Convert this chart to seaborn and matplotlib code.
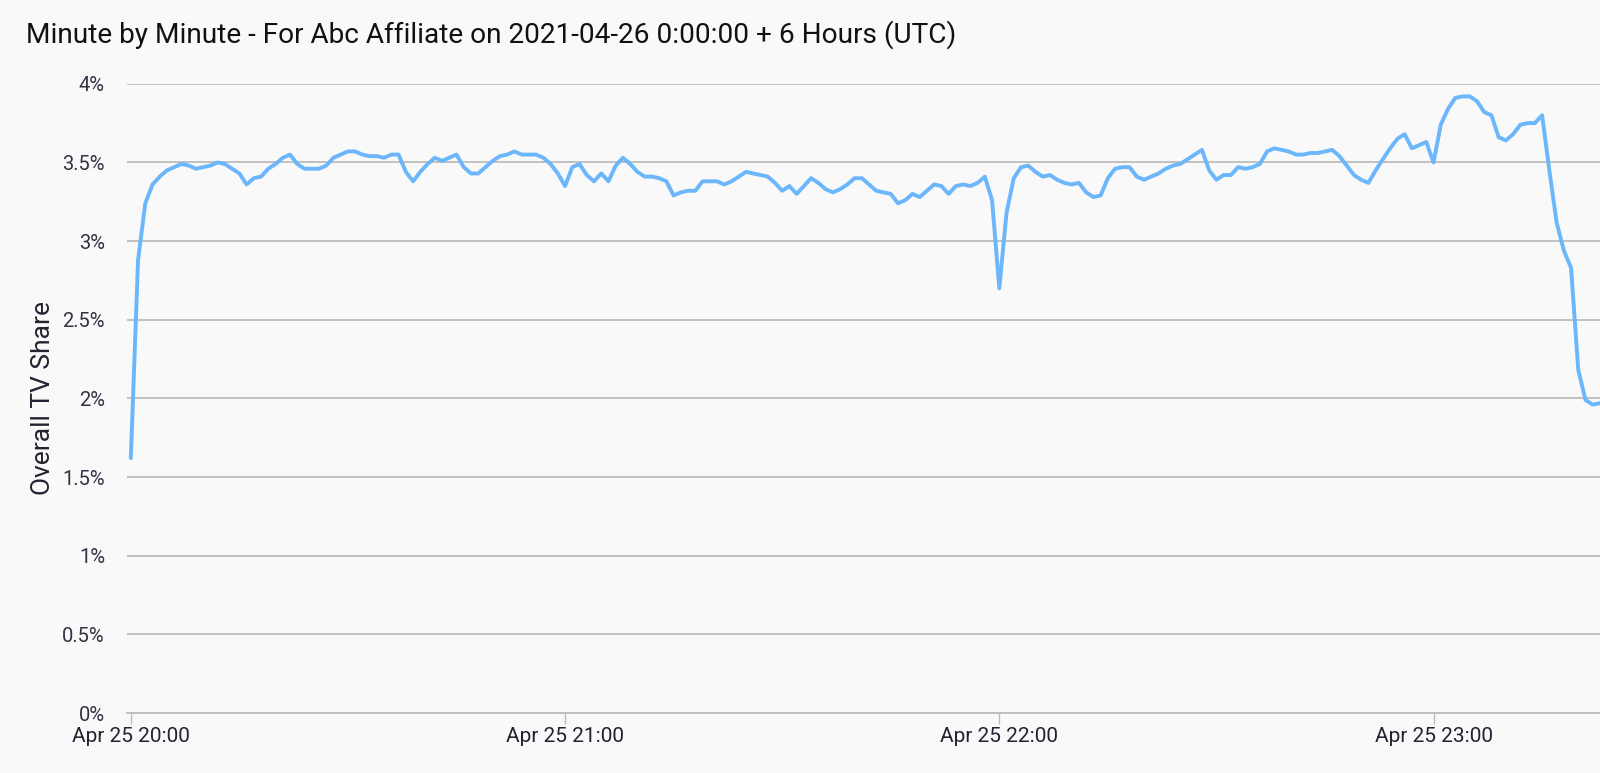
import matplotlib
matplotlib.use("Agg")
import matplotlib.pyplot as plt
import matplotlib.dates as mdates
from matplotlib.ticker import FuncFormatter
import seaborn as sns
import pandas as pd

# chart data: one value per minute starting at 2021-04-25 20:00
start_time = "2021-04-25 20:00"
tv_share = [
    1.62, 2.88, 3.24, 3.36, 3.41, 3.45, 3.47, 3.49, 3.48, 3.46,
    3.47, 3.48, 3.50, 3.49, 3.46, 3.43, 3.36, 3.40, 3.41, 3.46,
    3.49, 3.53, 3.55, 3.49, 3.46, 3.46, 3.46, 3.48, 3.53, 3.55,
    3.57, 3.57, 3.55, 3.54, 3.54, 3.53, 3.55, 3.55, 3.44, 3.38,
    3.44, 3.49, 3.53, 3.51, 3.53, 3.55, 3.47, 3.43, 3.43, 3.47,
    3.51, 3.54, 3.55, 3.57, 3.55, 3.55, 3.55, 3.53, 3.49, 3.43,
    3.35, 3.47, 3.49, 3.42, 3.38, 3.43, 3.38, 3.48, 3.53, 3.49,
    3.44, 3.41, 3.41, 3.40, 3.38, 3.29, 3.31, 3.32, 3.32, 3.38,
    3.38, 3.38, 3.36, 3.38, 3.41, 3.44, 3.43, 3.42, 3.41, 3.37,
    3.32, 3.35, 3.30, 3.35, 3.40, 3.37, 3.33, 3.31, 3.33, 3.36,
    3.40, 3.40, 3.36, 3.32, 3.31, 3.30, 3.24, 3.26, 3.30, 3.28,
    3.32, 3.36, 3.35, 3.30, 3.35, 3.36, 3.35, 3.37, 3.41, 3.26,
    2.70, 3.18, 3.40, 3.47, 3.48, 3.44, 3.41, 3.42, 3.39, 3.37,
    3.36, 3.37, 3.31, 3.28, 3.29, 3.40, 3.46, 3.47, 3.47, 3.41,
    3.39, 3.41, 3.43, 3.46, 3.48, 3.49, 3.52, 3.55, 3.58, 3.45,
    3.39, 3.42, 3.42, 3.47, 3.46, 3.47, 3.49, 3.57, 3.59, 3.58,
    3.57, 3.55, 3.55, 3.56, 3.56, 3.57, 3.58, 3.54, 3.48, 3.42,
    3.39, 3.37, 3.45, 3.52, 3.59, 3.65, 3.68, 3.59, 3.61, 3.63,
    3.50, 3.74, 3.84, 3.91, 3.92, 3.92, 3.89, 3.82, 3.80, 3.66,
    3.64, 3.68, 3.74, 3.75, 3.75, 3.80, 3.45, 3.12, 2.94, 2.83,
    2.18, 1.99, 1.96, 1.97,
]
y_ticks = [0, 0.5, 1, 1.5, 2, 2.5, 3, 3.5, 4]
title = "Minute by Minute - For Abc Affiliate on 2021-04-26 0:00:00 + 6 Hours (UTC)"
y_label = "Overall TV Share"

df = pd.DataFrame({
    "time": pd.date_range(start_time, periods=len(tv_share), freq="min"),
    "share": tv_share,
})

sns.set_theme(style="white")
plt.rcParams["font.family"] = ["Roboto", "DejaVu Sans"]

bg = "#f9f9f9"
fig = plt.figure(figsize=(16, 7.73), dpi=100, facecolor=bg)
ax = fig.add_axes([0.0795, 0.0776, 0.9205, 0.814])
ax.set_facecolor(bg)

sns.lineplot(data=df, x="time", y="share", ax=ax, color="#6cb6fb", linewidth=2.8)

ax.set_ylim(0, 4)
ax.set_yticks(y_ticks)
ax.yaxis.set_major_formatter(FuncFormatter(lambda v, p: f"{v:g}%"))
t0 = pd.Timestamp(start_time)
ax.set_xlim(t0 - pd.Timedelta(seconds=30), t0 + pd.Timedelta(minutes=203))
ax.xaxis.set_major_locator(mdates.HourLocator())
ax.xaxis.set_major_formatter(mdates.DateFormatter("%b %d %H:%M"))

ax.grid(axis="y", color="#bdbdbd", linewidth=1.3)
ax.grid(axis="x", visible=False)
for s in ["top", "right", "left"]:
    ax.spines[s].set_visible(False)
ax.spines["bottom"].set_color("#bdbdbd")
ax.spines["bottom"].set_linewidth(1.3)

ax.tick_params(axis="y", length=0, pad=16, labelsize=14.5, labelcolor="#333344")
ax.tick_params(axis="x", length=8, width=1, color="#bdbdbd", pad=2,
               labelsize=15, labelcolor="#222233", bottom=True)

ax.set_xlabel("")
ax.set_ylabel(y_label, fontsize=19, color="#222233", labelpad=5)
fig.text(0.016, 0.955, title, fontsize=20.2, color="#111111", ha="left", va="center")

fig.savefig("out.png", dpi=100, facecolor=bg)
